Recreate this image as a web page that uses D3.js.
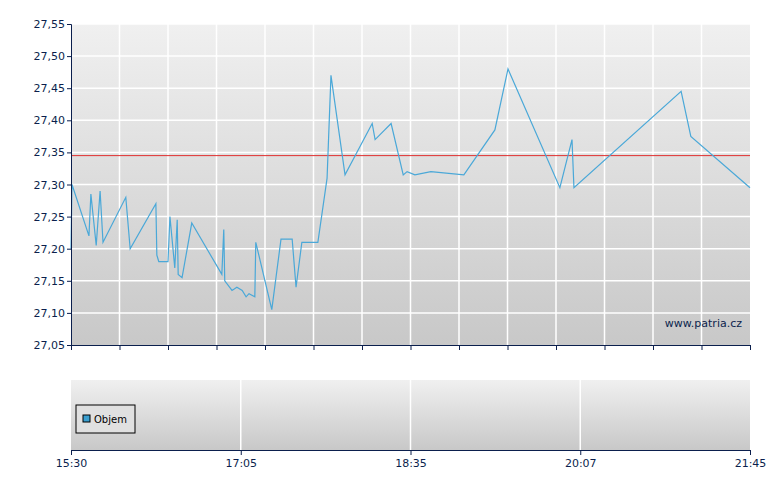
<!DOCTYPE html>
<html><head><meta charset="utf-8">
<script src="https://cdn.jsdelivr.net/npm/d3@7"></script>
<style>body{margin:0;background:#fff}text{font-family:"DejaVu Sans",sans-serif;font-size:11px;fill:#0b1f4d}</style>
</head><body>
<script>
// x in grid units (0..14 across the session), y = price
var timeUnits = [0,0.02,0.37,0.41,0.52,0.60,0.66,1.13,1.22,1.75,1.77,1.81,2.0,2.04,2.14,2.19,2.21,2.29,2.49,3.11,3.15,3.17,3.32,3.42,3.53,3.61,3.67,3.79,3.81,4.14,4.33,4.56,4.64,4.76,5.09,5.28,5.36,5.65,6.21,6.27,6.60,6.85,6.93,7.09,7.42,8.10,8.74,9.01,10.08,10.33,10.37,12.58,12.78,14.0];
var prices = [27.20,27.30,27.22,27.285,27.205,27.29,27.21,27.28,27.20,27.27,27.19,27.18,27.18,27.25,27.17,27.245,27.16,27.155,27.24,27.16,27.23,27.15,27.135,27.14,27.135,27.125,27.13,27.125,27.21,27.105,27.215,27.215,27.14,27.21,27.21,27.31,27.47,27.315,27.395,27.37,27.395,27.315,27.32,27.315,27.32,27.315,27.385,27.48,27.295,27.37,27.295,27.445,27.375,27.295];
var refPrice = 27.345;
var yTicks = [27.05,27.10,27.15,27.20,27.25,27.30,27.35,27.40,27.45,27.50,27.55];
var timeLabels = ["15:30","17:05","18:35","20:07","21:45"];

var W = 780, H = 490, L = 71, R = 750;
var svg = d3.select("body").append("svg").attr("width", W).attr("height", H);

var defs = svg.append("defs");
var g1 = defs.append("linearGradient").attr("id", "bg").attr("x1", 0).attr("y1", 0).attr("x2", 0).attr("y2", 1);
g1.append("stop").attr("offset", 0).attr("stop-color", "#f0f0f0");
g1.append("stop").attr("offset", 1).attr("stop-color", "#c8c8c8");

var x = d3.scaleLinear().domain([0, 14]).range([L, R]);
var y = d3.scaleLinear().domain([27.05, 27.55]).range([345, 24]);

// main panel
svg.append("rect").attr("x", L).attr("y", 24).attr("width", R - L).attr("height", 321).attr("fill", "url(#bg)");
svg.append("g").selectAll("line").data(d3.range(1, 14)).join("line")
	.attr("x1", d => x(d)).attr("x2", d => x(d)).attr("y1", 24).attr("y2", 345)
	.attr("stroke", "#fff").attr("stroke-width", 1.5);
svg.append("g").selectAll("line").data(yTicks.slice(1)).join("line")
	.attr("x1", L).attr("x2", R).attr("y1", d => y(d)).attr("y2", d => y(d))
	.attr("stroke", "#fff").attr("stroke-width", 1.5);

svg.append("line").attr("x1", L).attr("x2", R).attr("y1", y(refPrice)).attr("y2", y(refPrice))
	.attr("stroke", "#e03030").attr("stroke-width", 1);

svg.append("path").datum(d3.zip(timeUnits, prices))
	.attr("d", d3.line().x(d => x(d[0])).y(d => y(d[1])))
	.attr("fill", "none").attr("stroke", "#4aa8d8").attr("stroke-width", 1.2);

var fmt = d => d3.format(".2f")(d).replace(".", ",");
var ya = svg.append("g").attr("transform", "translate(" + L + ",0)")
	.call(d3.axisLeft(y).tickValues(yTicks).tickFormat(fmt).tickSize(4).tickPadding(2));
var xa = svg.append("g").attr("transform", "translate(0,345)")
	.call(d3.axisBottom(x).ticks(14).tickFormat("").tickSize(5));
[ya, xa].forEach(a => {
	a.select(".domain").attr("stroke", "#0b1f4d");
	a.selectAll(".tick line").attr("stroke", "#0b1f4d");
	a.selectAll("text").style("font-size", "11px").attr("fill", "#0b1f4d");
});
svg.append("text").attr("x", 742).attr("y", 327).attr("text-anchor", "end").text("www.patria.cz");

// volume panel
var x2 = d3.scalePoint().domain(timeLabels).range([L, R]);
svg.append("rect").attr("x", L).attr("y", 380).attr("width", R - L).attr("height", 70).attr("fill", "url(#bg)");
svg.append("g").selectAll("line").data(timeLabels.slice(1, 4)).join("line")
	.attr("x1", d => x2(d)).attr("x2", d => x2(d)).attr("y1", 380).attr("y2", 450)
	.attr("stroke", "#fff").attr("stroke-width", 1.5);
var xb = svg.append("g").attr("transform", "translate(0,450)")
	.call(d3.axisBottom(x2).tickSize(5).tickPadding(4));
xb.select(".domain").attr("stroke", "#0b1f4d");
xb.selectAll(".tick line").attr("stroke", "#0b1f4d");
xb.selectAll("text").style("font-size", "11px").attr("fill", "#0b1f4d");

var lg = svg.append("g").attr("transform", "translate(76,405)");
lg.append("rect").attr("width", 59).attr("height", 28).attr("fill", "#e0e0e0").attr("stroke", "#000");
lg.append("rect").attr("x", 7).attr("y", 10).attr("width", 7).attr("height", 7).attr("fill", "#3a9fd0").attr("stroke", "#000");
lg.append("text").attr("x", 18).attr("y", 18).style("font-size", "10px").attr("fill", "#000").style("fill", "#000").text("Objem");
</script>
</body></html>
